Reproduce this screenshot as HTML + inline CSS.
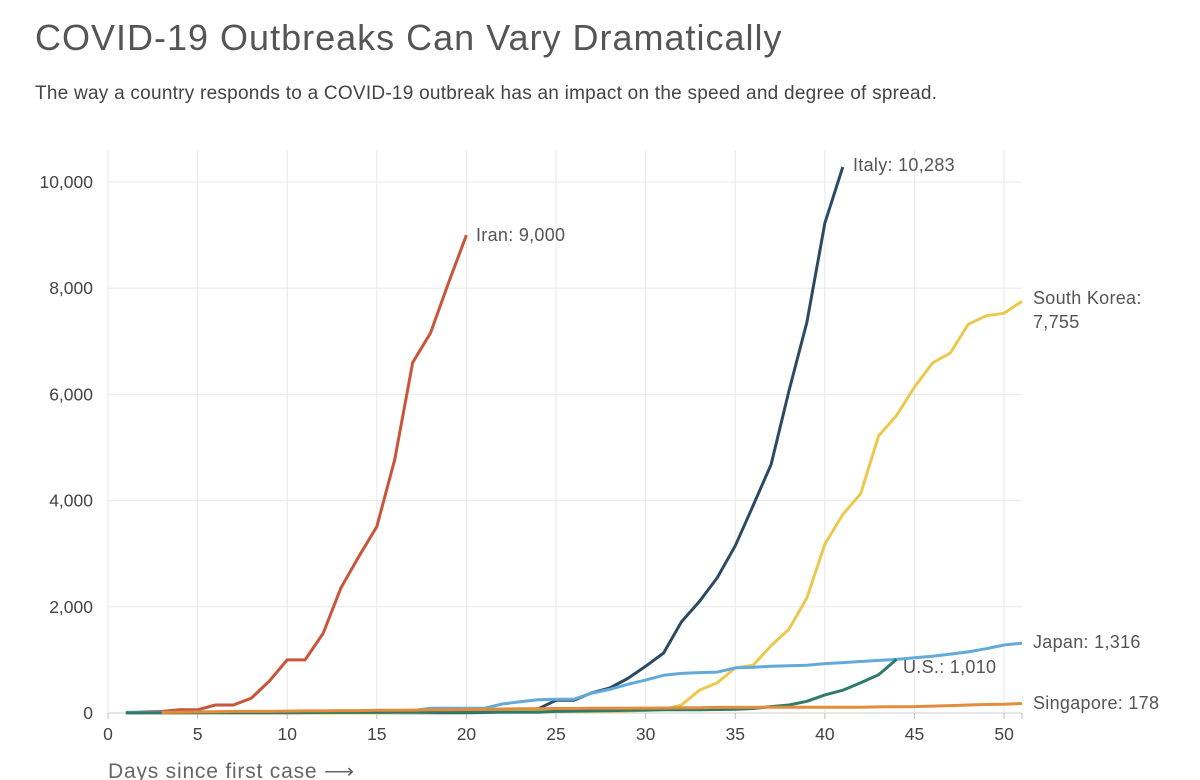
<!DOCTYPE html>
<html><head><meta charset="utf-8"><style>
body{margin:0;background:#fff;font-family:"Liberation Sans",sans-serif;}
#wrap{position:relative;width:1200px;height:780px;overflow:hidden;}
h1{position:absolute;left:35px;top:17px;margin:0;font-weight:normal;font-size:36px;color:#555;letter-spacing:1px}
p.sub{position:absolute;left:35px;top:83px;margin:0;font-size:19px;color:#444;letter-spacing:0.25px}
svg{position:absolute;left:0;top:0}
</style></head><body>
<div id="wrap">
<h1>COVID-19 Outbreaks Can Vary Dramatically</h1>
<p class="sub">The way a country responds to a COVID-19 outbreak has an impact on the speed and degree of spread.</p>
<svg id="chart" width="1200" height="780"></svg>
</div>
<script>
const xTicks=[0,5,10,15,20,25,30,35,40,45,50];
const yTicks=[0,2000,4000,6000,8000,10000];
const yTickLabels=["0","2,000","4,000","6,000","8,000","10,000"];
const iran=[0,20,30,60,60,150,150,280,600,1000,1000,1500,2360,2950,3510,4770,6600,7160,8100,9000];
const italy=[3,3,3,3,3,3,3,3,3,3,5,5,5,5,5,5,5,5,5,5,10,20,50,80,240,240,380,470,650,880,1130,1720,2100,2550,3150,3910,4680,6070,7360,9230,10283];
const korea=[0,0,0,0,0,0,0,0,0,0,0,0,0,0,0,5,10,15,20,25,30,30,30,30,30,30,30,30,40,50,60,150,430,570,850,900,1270,1580,2170,3180,3740,4130,5220,5600,6140,6590,6780,7320,7480,7530,7755];
const japan=[15,15,15,15,15,15,15,15,15,20,20,20,25,25,30,35,45,90,90,90,90,170,210,250,260,260,375,445,540,620,710,745,760,770,850,860,880,890,900,930,950,970,990,1010,1040,1070,1110,1150,1210,1280,1316];
const us=[1,1,2,2,3,5,5,5,5,6,8,10,11,12,12,13,13,13,14,14,15,15,15,15,30,35,40,45,50,55,60,60,60,65,70,85,120,150,220,340,430,570,720,1010];
const singapore=[null,null,10,15,20,25,30,30,30,35,40,40,45,45,50,50,55,60,60,65,70,75,80,80,85,85,90,90,90,93,95,100,100,105,105,105,110,110,110,110,110,110,115,118,120,130,140,150,160,166,178];
const seriesNames=["iran","italy","south-korea","japan","us","singapore"];
const seriesData=[iran,italy,korea,japan,us,singapore];
const seriesColors=["#c9553a","#2c4b63","#ebc94e","#63aadb","#2f7b6a","#e28c3c"];
const labelTexts=[["Iran: 9,000"],["Italy: 10,283"],["South Korea:","7,755"],["Japan: 1,316"],["U.S.: 1,010"],["Singapore: 178"]];

const svg=document.getElementById('chart');
const NS='http://www.w3.org/2000/svg';
const X0=108,X1=1022,XMAX=51,Y0=713,Y1=182,YMAX=10000;
const xs=d=>X0+(X1-X0)*d/XMAX;
const ys=v=>Y0-(Y0-Y1)*v/YMAX;
function mk(t,a){const e=document.createElementNS(NS,t);for(const k in a)e.setAttribute(k,a[k]);svg.appendChild(e);return e;}

yTicks.forEach((v,i)=>{
  const l=mk('line',{x1:X0,x2:X1,y1:ys(v),y2:ys(v),stroke:i===0?'#ccc':'#e8e8e8','stroke-width':1});
  
  
  const t=mk('text',{x:93,y:ys(v)+6,'text-anchor':'end','font-size':17.5,fill:'#444','font-family':'Liberation Sans, sans-serif'});
  t.textContent=yTickLabels[i];
  
  
});
xTicks.forEach(d=>{
  const l=mk('line',{x1:xs(d),x2:xs(d),y1:150,y2:Y0,stroke:'#e8e8e8','stroke-width':1});
  
  
  const tk=mk('line',{x1:xs(d),x2:xs(d),y1:Y0,y2:Y0+6,stroke:'#bbb'});
  
  
  const t=mk('text',{x:xs(d),y:740,'text-anchor':'middle','font-size':17.5,fill:'#444','font-family':'Liberation Sans, sans-serif'});
  t.textContent=d;
  
  
});
const rt=mk('line',{x1:X1,x2:X1,y1:Y0,y2:Y0+6,stroke:'#bbb'});



seriesData.forEach((arr,si)=>{
  const pts=[];
  arr.forEach((v,i)=>{if(v!==null)pts.push(xs(i+1).toFixed(1)+','+ys(v).toFixed(1));});
  const p=mk('polyline',{points:pts.join(' '),fill:'none',stroke:seriesColors[si],'stroke-width':3,'stroke-linejoin':'round'});
  
  
});

const labelPos=[[476,241],[853,171],[1033,304],[1033,648],[903,673],[1033,709]];
labelTexts.forEach((lines,i)=>{
  lines.forEach((s,j)=>{
    const t=mk('text',{x:labelPos[i][0],y:labelPos[i][1]+j*24,'font-size':18,fill:'#555','font-family':'Liberation Sans, sans-serif','letter-spacing':0.3});
    t.textContent=s;
    
    
  });
});
const xt=mk('text',{x:108,y:778,'font-size':21,fill:'#666','font-family':'Liberation Sans, sans-serif','letter-spacing':0.8});
xt.textContent='Days since first case ⟶';


</script>
</body></html>
